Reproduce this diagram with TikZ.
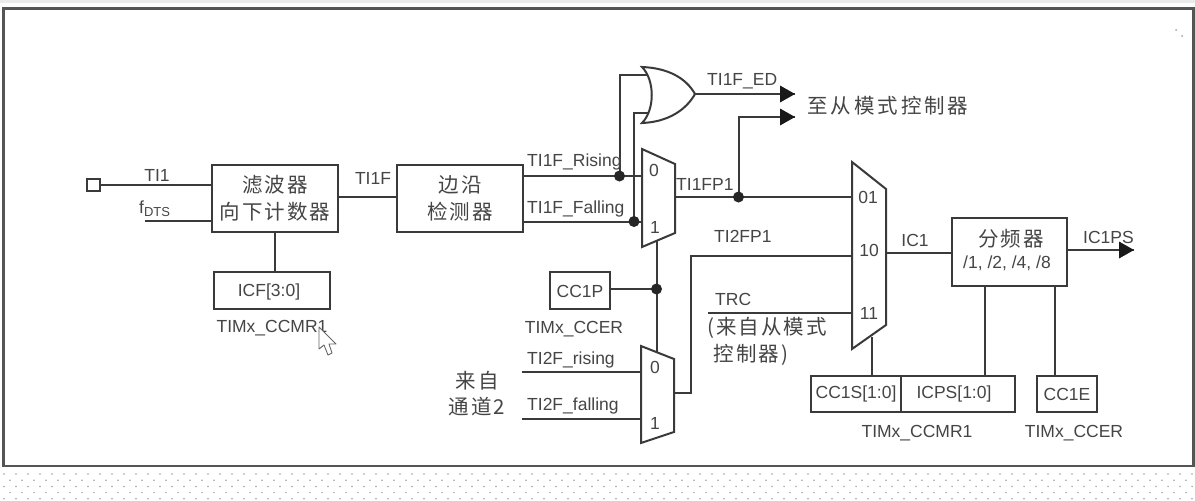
\documentclass[tikz,border=0pt]{standalone}
\usepackage{fontspec}
\setmainfont{Liberation Sans}
\newfontfamily\cjkfont[LetterSpace=10]{Noto Sans CJK SC}
\newfontfamily\cjkwide[LetterSpace=14]{Noto Sans CJK SC}
\definecolor{ink}{HTML}{3A3A3A}
\definecolor{txt}{HTML}{454545}
\definecolor{cjktxt}{HTML}{454545}
\definecolor{edge}{HTML}{555555}
\definecolor{dotc}{HTML}{9DA3A6}
\tikzset{
  wire/.style={draw=ink,line width=2pt},
  flowbox/.style={draw=ink,line width=2pt,fill=white,rectangle,inner sep=0pt,outer sep=0pt},
  lbl/.style={text=txt,inner sep=0pt,font=\fontsize{17.5}{19}\selectfont},
  cjk/.style={text=cjktxt,inner sep=0pt,font=\fontsize{20.5}{23}\cjkfont},
  muxshape/.style={draw=ink,line width=2pt,fill=white,line join=miter},
  jn/.style={circle,fill=black!85,inner sep=0pt,minimum size=11pt},
  tri/.style={fill=black!90,draw=none},
}
\newcommand{\arrowhead}[1]{\fill[tri] (#1) -- ++(-15,-8.5) -- ++(0,17) -- cycle;}
\begin{document}
\begin{tikzpicture}[x=1pt,y=-1pt]
\useasboundingbox (0,0) rectangle (1195,501);
\fill[white] (0,0) rectangle (1195,501);
\fill[black!8] (0,0) rectangle (1195,3);
% dotted page below the frame
\foreach \r in {0,2,4}{
  \foreach \c in {0,...,99}{
    \fill[dotc] ({4+12*\c},{474+6.2*\r}) circle (0.85);
  }
}
\foreach \r in {1,3}{
  \foreach \c in {0,...,99}{
    \fill[dotc] ({10+12*\c},{474+6.2*\r}) circle (0.85);
  }
}
\fill[dotc] (1176,30) circle (1);
\fill[dotc] (1182,36) circle (1);
% frame
\draw[draw=edge,line width=2.6pt] (3.5,8.5) rectangle (1193.5,466);

% boxes
\node[flowbox,minimum width=13pt,minimum height=12pt] (port) at (93.5,185) {};
\node[flowbox,minimum width=126pt,minimum height=67pt] (filter) at (275,198.5) {};
\node[flowbox,minimum width=116pt,minimum height=37pt] (icf) at (272,290.5) {};
\node[flowbox,minimum width=126pt,minimum height=67pt] (edgedet) at (460,198.5) {};
\node[flowbox,minimum width=60pt,minimum height=37pt] (ccp) at (580,290.5) {};
\node[flowbox,minimum width=115pt,minimum height=68pt] (presc) at (1009.5,252) {};
\node[flowbox,minimum width=90pt,minimum height=36pt] (ccs) at (856,394) {};
\node[flowbox,minimum width=114pt,minimum height=36pt] (icps) at (958,394) {};
\node[flowbox,minimum width=60pt,minimum height=36pt] (cce) at (1067,394) {};

% free ends and tapping points
\coordinate (ftsstart) at (145,221);
\coordinate (filterOut) at (338,197);
\coordinate (riseJ) at (619.5,176);
\coordinate (fallJ) at (634,221.5);
\coordinate (mOneA) at (642,176);
\coordinate (mOneB) at (642,221.5);
\coordinate (orA) at (650,75);
\coordinate (orB) at (650,112.5);
\coordinate (orOut) at (695,94);
\coordinate (edTip) at (795,94);
\coordinate (slaveTip) at (795,117);
\coordinate (mOneOut) at (675,197);
\coordinate (fpJ) at (738.5,197);
\coordinate (mThreeA) at (852,197);
\coordinate (mThreeB) at (852,256);
\coordinate (mThreeC) at (852,313);
\coordinate (mThreeOut) at (886,253);
\coordinate (mThreeSel) at (872,337);
\coordinate (trcStart) at (708,313);
\coordinate (mOneSel) at (656.5,240);
\coordinate (mTwoSel) at (656.5,352);
\coordinate (ccJ) at (656.5,289);
\coordinate (mTwoA) at (641,372);
\coordinate (mTwoB) at (641,419);
\coordinate (riseStart) at (522,372);
\coordinate (fallStart) at (522,419);
\coordinate (mTwoOut) at (674,393);
\coordinate (ticorner) at (691,393);
\coordinate (psTip) at (1134,250);
\coordinate (pscSel) at (985,286);
\coordinate (enSel) at (1055,286);

% connectors
\draw[wire] (port.east) -- (port.east -| filter.west);
\draw[wire] (ftsstart) -- (ftsstart -| filter.west);
\draw[wire] (filter.south) -- (icf.north -| filter.south);
\draw[wire] (filterOut) -- (filterOut -| edgedet.west);
\draw[wire] (riseJ -| edgedet.east) -- (mOneA);
\draw[wire] (fallJ -| edgedet.east) -- (mOneB);
\draw[wire] (riseJ) -- (riseJ |- orA) -- (orA);
\draw[wire] (fallJ) -- (fallJ |- orB) -- (orB);
\draw[wire] (orOut) -- (edTip);
\draw[wire] (mOneOut) -- (mThreeA);
\draw[wire] (fpJ) -- (fpJ |- slaveTip) -- (slaveTip);
\draw[wire] (mOneSel) -- (mTwoSel);
\draw[wire] (ccp.east |- ccJ) -- (ccJ);
\draw[wire] (riseStart) -- (mTwoA);
\draw[wire] (fallStart) -- (mTwoB);
\draw[wire] (mTwoOut) -- (ticorner) -- (ticorner |- mThreeB) -- (mThreeB);
\draw[wire] (trcStart) -- (mThreeC);
\draw[wire] (mThreeOut) -- (mThreeOut -| presc.west);
\draw[wire] (presc.east |- psTip) -- (psTip);
\draw[wire] (mThreeSel) -- (mThreeSel |- ccs.north);
\draw[wire] (pscSel) -- (pscSel |- icps.north);
\draw[wire] (enSel) -- (enSel |- cce.north);

% multiplexers
\draw[muxshape] (642,149) -- (675,164) -- (675,233) -- (642,247) -- cycle;
\draw[muxshape] (641,346) -- (674,359) -- (674,432) -- (641,443) -- cycle;
\draw[muxshape] (852,162) -- (886,189) -- (886,325) -- (852,349) -- cycle;
% OR gate
\draw[draw=ink,line width=2pt,fill=white,miter limit=4]
  (642,67) .. controls (655,80) and (655,110) .. (642,123)
  .. controls (668,122) and (686,110) .. (695,94)
  .. controls (686,78) and (668,68) .. (642,67) -- cycle;

% junctions and arrowheads
\node[jn] (j1) at (riseJ) {};
\node[jn] (j2) at (fallJ) {};
\node[jn] (j3) at (fpJ) {};
\node[jn] (j4) at (ccJ) {};
\arrowhead{edTip}
\arrowhead{slaveTip}
\arrowhead{psTip}

% labels
\node[lbl] (tti) at (157,175) {TI1};
\node[lbl,anchor=west] (tfd) at (139,209) {f\raisebox{-3pt}{\fontsize{13}{14}\selectfont DTS}};
\node[lbl] (ttf) at (373,178) {TI1F};
\node[lbl,anchor=west] (trise) at (527,162) {TI1F\_Rising};
\node[lbl,anchor=west] (tfall) at (527,209) {TI1F\_Falling};
\node[lbl,anchor=west] (ted) at (707,81) {TI1F\_ED};
\node[lbl,anchor=west] (tfp) at (676,184) {TI1FP1};
\node[lbl,anchor=west] (tfpb) at (714,236) {TI2FP1};
\node[lbl,anchor=west] (ttrc) at (715,299) {TRC};
\node[lbl] (tic) at (915,240) {IC1};
\node[lbl,anchor=west] (tips) at (1083,237) {IC1PS};
\node[lbl,anchor=west] (t2r) at (527,360) {TI2F\_rising};
\node[lbl,anchor=west] (t2f) at (527,406) {TI2F\_falling};
\node[lbl] (m10) at (654,170) {0};
\node[lbl] (m11) at (655,227) {1};
\node[lbl] (m20) at (655,367) {0};
\node[lbl] (m21) at (655,423) {1};
\node[lbl] (m31) at (868,197) {01};
\node[lbl] (m32) at (869,250) {10};
\node[lbl] (m33) at (869,313) {11};
\node[lbl] (ticf) at (269,292) {ICF[3:0]};
\node[lbl] (tcc) at (580,291) {CC1P};
\node[lbl] (tccs) at (856,394) {CC1S[1:0]};
\node[lbl] (ticps) at (954,394) {ICPS[1:0]};
\node[lbl] (tcce) at (1067,394) {CC1E};
\node[lbl] (reg1) at (272,328) {TIMx\_CCMR1};
\node[lbl] (reg2) at (574,329) {TIMx\_CCER};
\node[lbl] (reg3) at (917,433) {TIMx\_CCMR1};
\node[lbl] (reg4) at (1074,433) {TIMx\_CCER};
\node[lbl] (tdiv) at (1007,263) {/1, /2, /4, /8};
\node[cjk] (c1) at (275,185) {滤波器};
\node[cjk] (c2) at (275,212) {向下计数器};
\node[cjk] (c3) at (460,185) {边沿};
\node[cjk] (c4) at (460,212) {检测器};
\node[cjk] (c5) at (1011,239) {分频器};
\node[cjk,font=\fontsize{20.5}{23}\cjkwide] (c6) at (888,106) {至从模式控制器};
\node[cjk] (c7) at (477,381) {来自};
\node[cjk] (c8) at (477,407) {通道2};
\node[cjk] (c9) at (767,328) {(来自从模式};
\node[cjk] (c10) at (751,355) {控制器)};

% mouse pointer
\draw[draw=black!60,line width=0.9pt,fill=white,line join=round]
  (319,327) -- (319,349) -- (324,345) -- (328,355) -- (332,353) -- (329,344) -- (336,344) -- cycle;
\end{tikzpicture}
\end{document}
